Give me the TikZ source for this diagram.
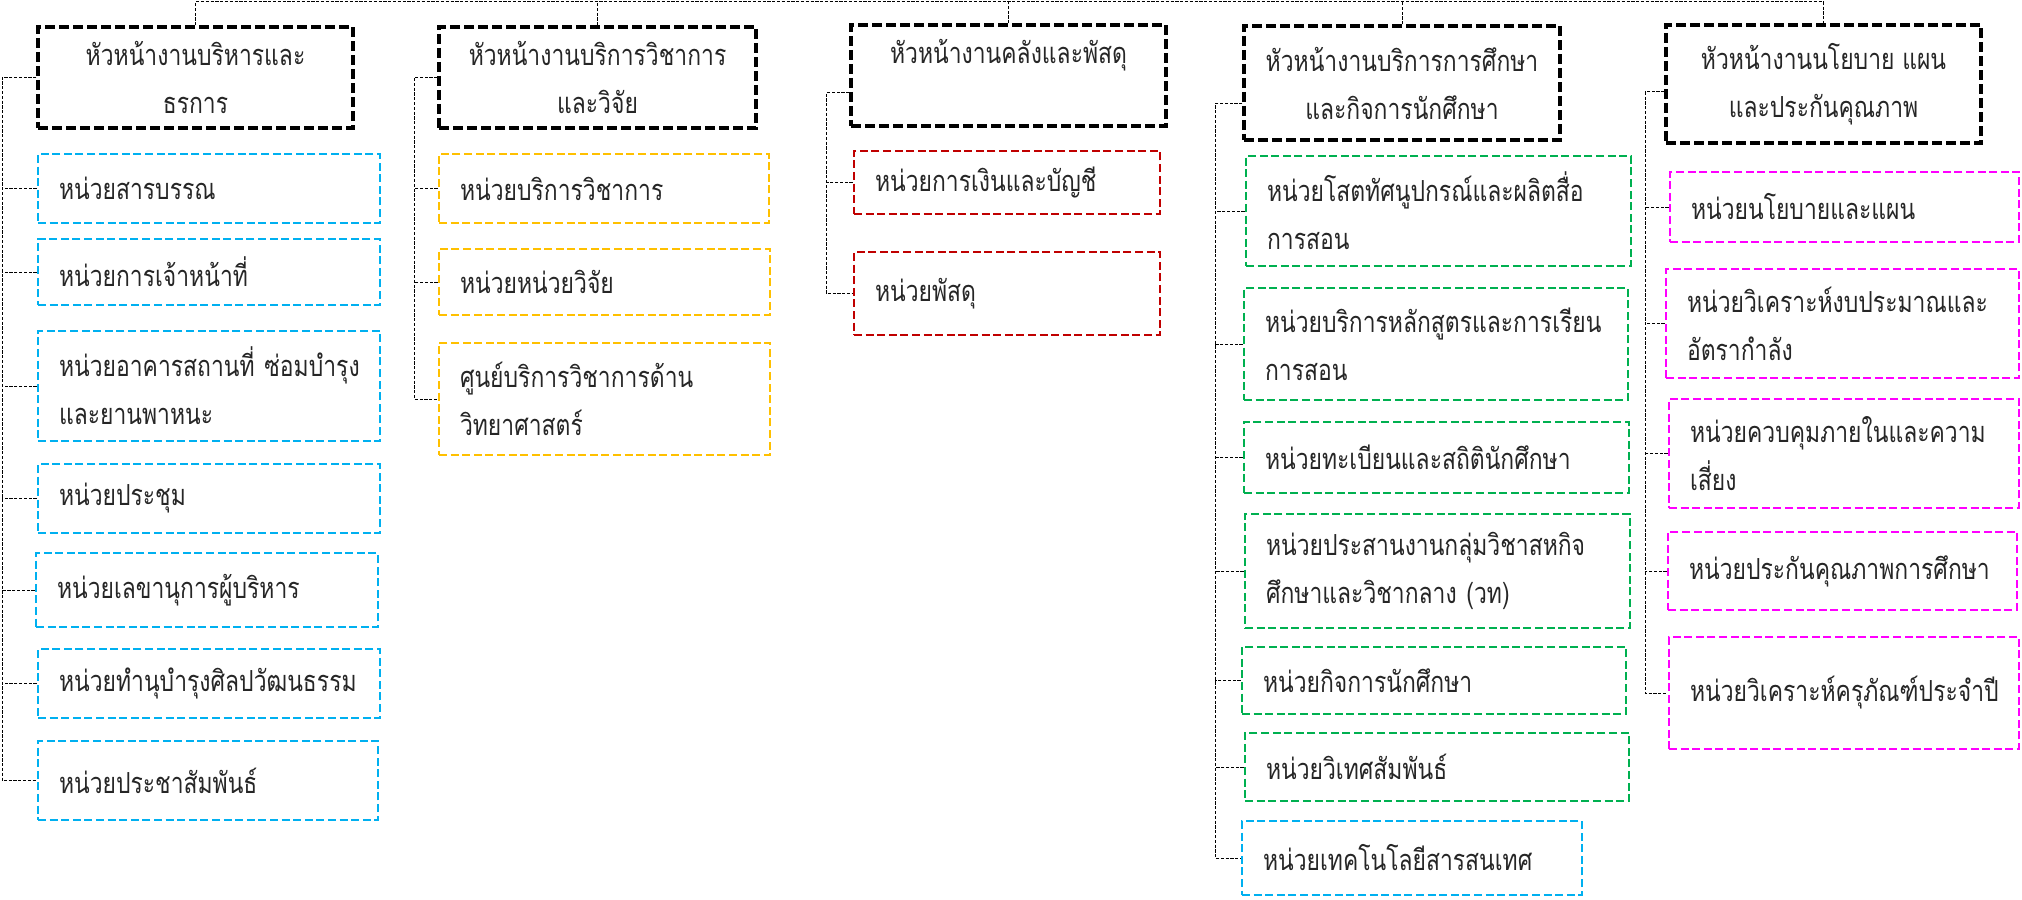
\documentclass[tikz,border=0pt]{standalone}
\usepackage{fontspec}
\setmainfont[Script=Thai, FakeStretch=0.79]{Loma}
\definecolor{unitBlue}{HTML}{00B0F0}
\definecolor{unitYellow}{HTML}{FFC000}
\definecolor{unitRed}{HTML}{C00000}
\definecolor{unitGreen}{HTML}{00B050}
\definecolor{unitMagenta}{HTML}{FF00FF}

\begin{document}
\begin{tikzpicture}[
  x=0.5pt, y=-0.5pt,
  every node/.style={
    font=\fontsize{14.5pt}{24pt}\selectfont,
    text=black!85,
  },
  head box/.style={
    draw=black,
    line width=1.6pt,
    dash pattern=on 5pt off 2pt,
    align=center,
    inner sep=0pt,
  },
  unit box/.style={
    draw=#1,
    line width=1.45pt,
    dash pattern=on 4pt off 1.8pt,
    align=left,
    inner xsep=10.5pt,
    inner ysep=0pt,
  },
  link/.style={
    draw=black,
    line width=0.5pt,
    dash pattern=on 1.6pt off 0.8pt,
  }
]
\useasboundingbox (0,0) rectangle (2022,899);
% heads of the five sections
\foreach \n/\xa/\ya/\xb/\yb/\t in {
  1/38/27/353/128/{หัวหน้างานบริหารและ\\ธรการ},
  2/439/27/756/128/{หัวหน้างานบริการวิชาการ\\และวิจัย},
  3/851/25/1166/126/{หัวหน้างานคลังและพัสดุ\\\mbox{}},
  4/1244/26/1560/140/{หัวหน้างานบริการการศึกษา\\และกิจการนักศึกษา},
  5/1666/25/1981/143/{หัวหน้างานนโยบาย แผน\\และประกันคุณภาพ}}
{
  \pgfmathsetmacro\w{(\xb-\xa)*0.5}
  \pgfmathsetmacro\h{(\yb-\ya)*0.5}
  \node[head box, minimum width=\w pt, minimum height=\h pt]
    (h\n) at ({(\xa+\xb)/2},{(\ya+\yb)/2}) {\t};
}
% units
\foreach \n/\c/\xa/\ya/\xb/\yb/\t in {
  1-1/unitBlue/38/154/380/223/{หน่วยสารบรรณ},
  1-2/unitBlue/38/239/380/305/{หน่วยการเจ้าหน้าที่},
  1-3/unitBlue/38/331/380/441/{\mbox{หน่วยอาคารสถานที่ ซ่อมบำรุง}\\และยานพาหนะ},
  1-4/unitBlue/38/464/380/533/{หน่วยประชุม},
  1-5/unitBlue/36/553/378/627/{หน่วยเลขานุการผู้บริหาร},
  1-6/unitBlue/38/649/380/718/{หน่วยทำนุบำรุงศิลปวัฒนธรรม},
  1-7/unitBlue/38/741/378/820/{หน่วยประชาสัมพันธ์},
  2-1/unitYellow/439/154/769/223/{หน่วยบริการวิชาการ},
  2-2/unitYellow/439/249/770/315/{หน่วยหน่วยวิจัย},
  2-3/unitYellow/439/343/770/455/{ศูนย์บริการวิชาการด้าน\\วิทยาศาสตร์},
  3-1/unitRed/854/151/1160/214/{หน่วยการเงินและบัญชี},
  3-2/unitRed/854/252/1160/335/{หน่วยพัสดุ},
  4-1/unitGreen/1246/156/1631/266/{หน่วยโสตทัศนูปกรณ์และผลิตสื่อ\\การสอน},
  4-2/unitGreen/1244/288/1628/400/{หน่วยบริการหลักสูตรและการเรียน\\การสอน},
  4-3/unitGreen/1244/422/1629/493/{หน่วยทะเบียนและสถิตินักศึกษา},
  4-4/unitGreen/1245/514/1630/628/{หน่วยประสานงานกลุ่มวิชาสหกิจ\\ศึกษาและวิชากลาง (วท)},
  4-5/unitGreen/1242/647/1626/714/{หน่วยกิจการนักศึกษา},
  4-6/unitGreen/1245/733/1629/801/{หน่วยวิเทศสัมพันธ์},
  4-7/unitBlue/1242/821/1582/895/{หน่วยเทคโนโลยีสารสนเทศ},
  5-1/unitMagenta/1670/172/2019/242/{หน่วยนโยบายและแผน},
  5-2/unitMagenta/1666/269/2019/378/{หน่วยวิเคราะห์งบประมาณและ\\อัตรากำลัง},
  5-3/unitMagenta/1669/399/2019/508/{หน่วยควบคุมภายในและความ\\เสี่ยง},
  5-4/unitMagenta/1668/532/2017/610/{หน่วยประกันคุณภาพการศึกษา},
  5-5/unitMagenta/1669/637/2019/749/{หน่วยวิเคราะห์ครุภัณฑ์ประจำปี}}
{
  \pgfmathsetmacro\w{(\xb-\xa)*0.5}
  \pgfmathsetmacro\h{(\yb-\ya)*0.5}
  \pgfmathsetmacro\tw{(\xb-\xa)*0.5-21}
  \node[unit box=\c, minimum width=\w pt, minimum height=\h pt, text width=\tw pt]
    (c\n) at ({(\xa+\xb)/2},{(\ya+\yb)/2}) {\t};
}
% top line joining the heads
\coordinate (bus) at (0,2);
\draw[link] (h1.north) -- (h1.north |- bus) -- (h5.north |- bus) -- (h5.north);
\foreach \n in {2,3,4}
  \draw[link] (h\n.north) -- (h\n.north |- bus);
% brackets on the left of each section
\coordinate (k1) at (2,0);
\coordinate (k2) at (414,0);
\coordinate (k3) at (826,0);
\coordinate (k4) at (1215,0);
\coordinate (k5) at (1645,0);
\draw[link] (h1.west) -| (k1 |- c1-7.west) -- (c1-7.west);
\foreach \i in {1,...,6}
  \draw[link] (c1-\i.west) -- (c1-\i.west -| k1);
\draw[link] (h2.west) -| (k2 |- c2-3.west) -- (c2-3.west);
\foreach \i in {1,2}
  \draw[link] (c2-\i.west) -- (c2-\i.west -| k2);
\draw[link] ([yshift=-8.75pt]h3.west) -| (k3 |- c3-2.west) -- (c3-2.west);
\draw[link] (c3-1.west) -- (c3-1.west -| k3);
\draw[link] ([yshift=-10.5pt]h4.west) -| (k4 |- c4-7.west) -- (c4-7.west);
\foreach \i in {1,...,6}
  \draw[link] (c4-\i.west) -- (c4-\i.west -| k4);
\draw[link] ([yshift=-4pt]h5.west) -| (k5 |- c5-5.west) -- (c5-5.west);
\foreach \i in {1,...,4}
  \draw[link] (c5-\i.west) -- (c5-\i.west -| k5);
\end{tikzpicture}
\end{document}
